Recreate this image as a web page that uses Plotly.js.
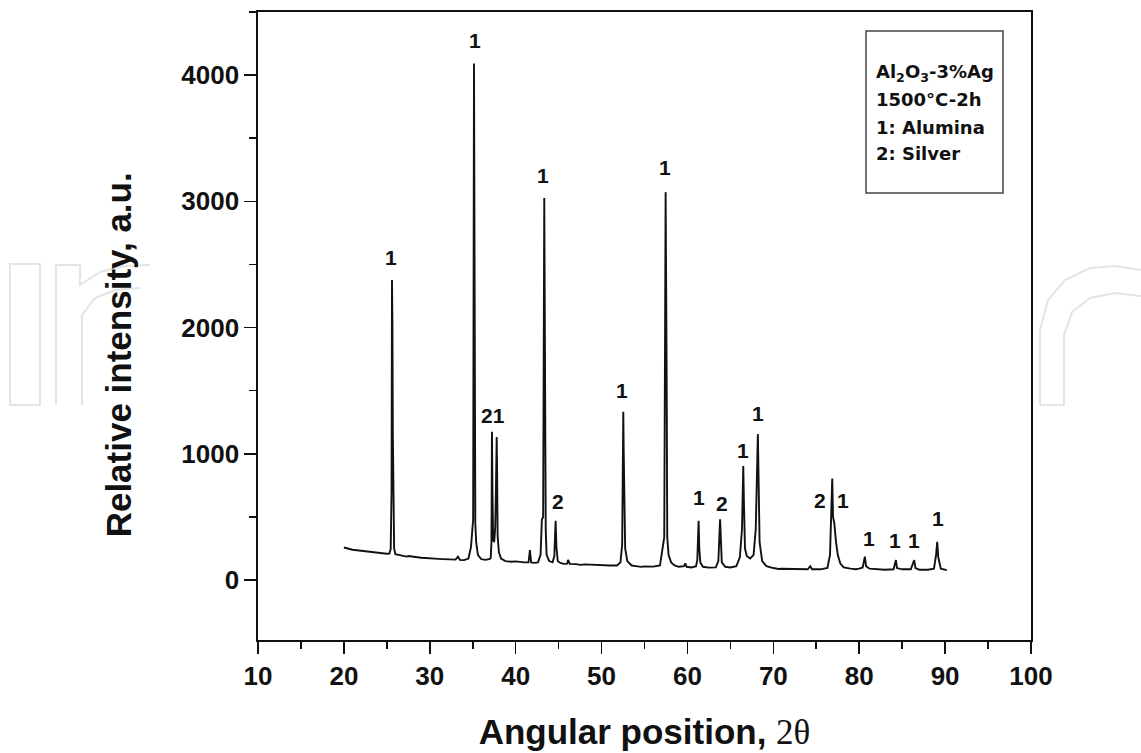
<!DOCTYPE html>
<html>
<head>
<meta charset="utf-8">
<script src="https://cdn.plot.ly/plotly-3.0.1.min.js"></script>
<style>html,body{margin:0;padding:0;background:#fff;}#chart{width:1141px;height:753px;}</style>
</head>
<body>
<div id="chart"></div>
<script>
// Digitised XRD pattern: 2-theta (degrees) and relative intensity (a.u.)
const twoTheta = [
  20.0,20.3,20.6,21.0,21.5,22.0,22.5,23.0,23.5,24.0,24.5,25.0,25.3,25.45,25.55,25.6,25.65,25.7,25.75,25.85,
  26.0,26.5,27.0,27.3,27.5,28.0,28.5,29.0,29.5,30.0,30.5,31.0,31.5,32.0,32.5,33.0,33.28,33.5,34.0,34.5,34.8,
  34.95,35.05,35.15,35.2,35.25,35.3,35.4,35.6,36.0,36.5,37.0,37.1,37.18,37.24,37.3,37.38,37.5,37.62,37.7,37.79,
  37.84,37.9,38.05,38.3,38.8,39.5,40.0,40.5,41.0,41.5,41.66,41.8,42.2,42.6,42.9,43.05,43.2,43.33,43.38,43.45,
  43.5,43.6,43.9,44.3,44.5,44.65,44.75,44.9,45.2,45.6,46.0,46.1,46.3,47.0,47.6,48.0,49.0,49.5,50.0,51.0,51.8,52.2,
  52.4,52.53,52.58,52.65,52.75,53.0,53.5,54.0,54.6,55.0,56.0,56.8,57.1,57.3,57.46,57.5,57.58,57.65,57.8,58.1,58.5,
  59.0,59.6,59.75,59.9,60.5,61.0,61.15,61.3,61.38,61.5,61.8,62.5,63.3,63.6,63.8,63.9,64.0,64.4,65.0,65.7,
  66.1,66.35,66.5,66.58,66.7,66.9,67.3,67.7,67.95,68.2,68.28,68.4,68.7,69.2,70.0,70.6,71.0,72.0,72.5,73.0,74.0,74.3,
  74.5,75.5,76.3,76.6,76.86,76.95,77.1,77.3,77.5,77.8,78.2,79.0,79.6,80.0,80.4,80.66,80.8,81.2,82.0,82.6,83.0,84.0,
  84.27,84.4,85.0,86.0,86.4,86.55,87.0,88.0,88.7,88.95,89.08,89.2,89.5,90.2
];
const intensity = [
  258,252,246,240,236,232,227,222,219,214,211,208,210,245,700,2376,2035,1150,420,250,
  205,196,192,186,190,184,180,177,175,172,166,168,166,164,160,162,186,160,158,170,262,
  455,480,4093,2313,2000,450,300,200,165,160,168,175,300,1175,700,320,300,420,700,1133,
  850,350,220,170,150,145,148,142,140,140,238,140,136,140,200,480,500,3026,1730,1700,
  400,200,150,140,190,470,260,150,135,128,130,160,128,126,120,124,120,116,118,115,115,140,
  280,1333,1016,600,250,150,115,110,104,108,106,115,250,340,3073,1660,1600,340,200,140,115,
  105,110,132,105,100,110,160,470,250,140,105,98,100,150,481,250,140,105,100,110,
  180,400,903,600,250,190,170,200,400,1156,700,300,150,110,95,88,90,88,84,85,85,110,
  85,85,95,200,805,500,450,300,200,130,100,90,86,90,100,185,110,90,85,80,82,85,
  158,95,85,85,158,95,82,82,90,200,303,180,90,79
];

// Peak phase labels (1: alumina, 2: silver), placed over their reflections
const labelText = ['1','1','21','1','2','1','1','1','2','1','1','2','1','1','1','1','1'];
const labelTheta = [25.5,35.3,37.36,43.2,44.95,52.4,57.4,61.34,63.98,66.43,68.17,75.42,78.14,81.1,84.16,86.4,89.2];
const labelIntensity = [2558,4272,1307,3208,620,1505,3271,657,610,1030,1323,634,634,330,317,317,489];

const legendLines = ['Al<sub>2</sub>O<sub>3</sub>-3%Ag','1500°C-2h','1: Alumina','2: Silver'];

const xTitle = 'Angular position, <span style="font-family:\'Liberation Serif\',serif;font-weight:normal">2θ</span>';
const yTitle = 'Relative intensity, a.u.';

const axisFont = {family:'"Liberation Sans", Arial, sans-serif', size:26, color:'#111', weight:'bold'};

// pixel -> paper helpers for frame-relative decorations
const PX = v => (v - 258) / 773;
const PY = v => (640 - v) / 628;

const trace = {
  x: twoTheta, y: intensity, type:'scatter', mode:'lines',
  line:{color:'#111', width:1.9}, hoverinfo:'x+y', showlegend:false
};

const annotations = [];
for (let i = 0; i < labelText.length; i++) {
  annotations.push({
    x: labelTheta[i], y: labelIntensity[i], xref:'x', yref:'y',
    text: labelText[i], showarrow:false, xanchor:'center', yanchor:'middle',
    font:{family:'"Liberation Sans", Arial, sans-serif', size:21, color:'#111', weight:'bold'}
  });
}
// y-axis title
annotations.push({
  x: 0, xref:'paper', xshift:-140, y: 1780, yref:'y',
  text: yTitle, textangle:-90, showarrow:false, xanchor:'center', yanchor:'middle',
  font:{family:'"Liberation Sans", Arial, sans-serif', size:35, color:'#111', weight:'bold'}
});
// legend text lines inside the box
const legendYpx = [73, 100, 127, 153];
for (let i = 0; i < legendLines.length; i++) {
  annotations.push({
    x: PX(874), xref:'paper', y: PY(legendYpx[i]), yref:'paper',
    text: legendLines[i], showarrow:false, xanchor:'left', yanchor:'middle',
    font:{family:'"DejaVu Sans", Verdana, sans-serif', size:18, color:'#111', weight:'bold'}
  });
}

// faint publisher watermark outlines outside the frame
const wm = {color:'#e4e4e4', width:2};
const p = (pts) => 'M ' + pts.map(q => PX(q[0]) + ',' + PY(q[1])).join(' L ');
const shapes = [
  {type:'rect', xref:'paper', yref:'paper', x0:PX(10), x1:PX(40), y0:PY(405), y1:PY(264), line:wm, layer:'below'},
  {type:'path', xref:'paper', yref:'paper', layer:'below', line:wm,
   path: p([[56,405],[56,265],[80,265],[80,285],[100,272],[125,266],[150,265]])},
  {type:'path', xref:'paper', yref:'paper', layer:'below', line:wm,
   path: p([[82,405],[82,315],[95,298],[115,290],[140,288]])},
  {type:'path', xref:'paper', yref:'paper', layer:'below', line:wm,
   path: p([[1040,405],[1040,330],[1048,300],[1065,280],[1090,268],[1115,266],[1141,270]])},
  {type:'path', xref:'paper', yref:'paper', layer:'below', line:wm,
   path: p([[1040,405],[1064,405],[1064,335],[1072,312],[1090,298],[1115,293],[1141,296]])},
  {type:'rect', xref:'paper', yref:'paper',
   x0:PX(866), x1:PX(1003), y0:PY(193), y1:PY(31),
   line:{color:'#444', width:1.5}, fillcolor:'rgba(0,0,0,0)'}
];

const layout = {
  width:1141, height:753,
  margin:{l:258, r:110, t:12, b:113},
  paper_bgcolor:'#fff', plot_bgcolor:'rgba(0,0,0,0)',
  showlegend:false,
  xaxis:{
    range:[10,100], tick0:10, dtick:10, ticks:'outside', ticklen:12, tickwidth:1.6, tickcolor:'#111',
    showline:true, linewidth:1.6, linecolor:'#111', mirror:true, showgrid:false, zeroline:false,
    tickfont:axisFont,
    minor:{dtick:5, ticks:'outside', ticklen:7, tickwidth:1.6, tickcolor:'#111', showgrid:false},
    title:{text:xTitle, standoff:30, font:{family:'"Liberation Sans", Arial, sans-serif', size:35, color:'#111', weight:'bold'}}
  },
  yaxis:{
    range:[-475,4500], tick0:0, dtick:1000, ticks:'outside', ticklen:12, tickwidth:1.6, tickcolor:'#111',
    showline:true, linewidth:1.6, linecolor:'#111', mirror:true, showgrid:false, zeroline:false,
    tickfont:axisFont,
    minor:{dtick:500, ticks:'outside', ticklen:7, tickwidth:1.6, tickcolor:'#111', showgrid:false}
  },
  shapes: shapes,
  annotations: annotations
};

Plotly.newPlot('chart', [trace], layout, {displayModeBar:false, staticPlot:true});
</script>
</body>
</html>
